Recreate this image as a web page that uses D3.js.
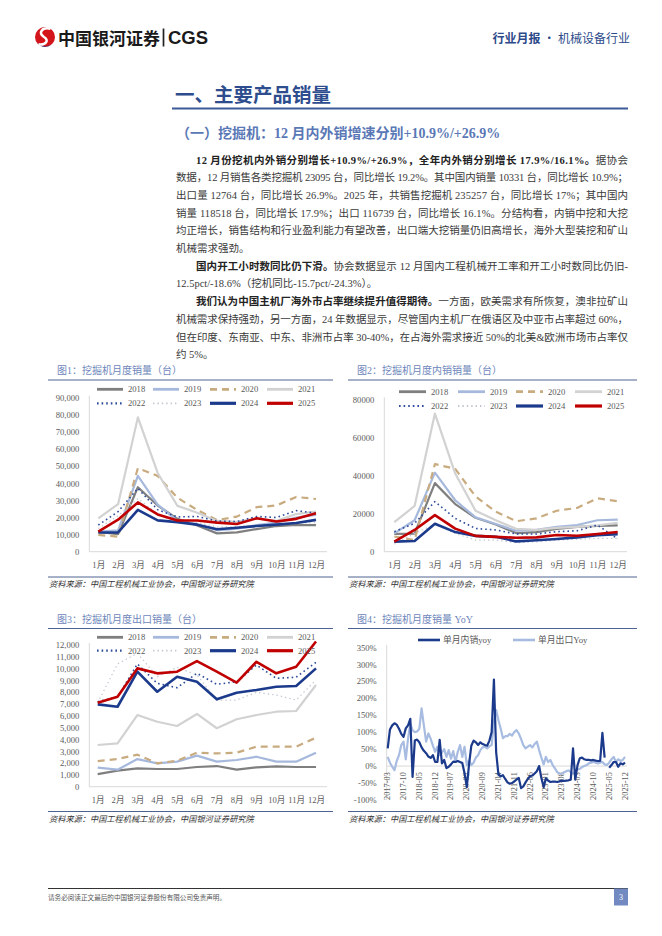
<!DOCTYPE html>
<html><head><meta charset="utf-8">
<script src="https://cdn.jsdelivr.net/npm/d3@7"></script>
<style>
html,body{margin:0;padding:0;background:#fff;}
svg{display:block;}
</style></head><body>
<svg id="page" width="662" height="936"></svg>
<script>
// ---------------- DATA ----------------
const months = ['1月','2月','3月','4月','5月','6月','7月','8月','9月','10月','11月','12月'];
const years = ['2018','2019','2020','2021','2022','2023','2024','2025'];

// 图1 挖掘机月度销量（台）, rows follow `years`
const totalSales = [
  [11500, 10300, 37700, 27000, 19200, 15300, 10700, 11300, 13200, 15000, 15600, 15500],
  [11800, 12500, 44300, 27500, 18000, 16000, 12500, 13500, 15500, 17000, 20000, 21500],
  [9800, 8800, 48800, 44300, 31500, 24400, 18500, 20500, 26000, 27000, 32000, 30800],
  [19500, 27800, 78500, 46000, 26800, 22800, 18000, 17500, 19500, 18000, 22000, 23500],
  [15600, 23400, 37000, 24500, 20300, 20600, 17900, 17600, 20600, 20000, 24000, 22500],
  [13500, 21000, 31000, 22000, 17000, 17000, 14500, 14600, 15700, 16300, 16700, 17000],
  [11200, 11300, 24400, 18300, 17300, 15800, 13100, 14000, 15000, 15800, 16800, 18600],
  [11700, 18700, 28800, 21800, 18200, 18200, 17000, 16200, 19500, 17600, 19200, 22500]
];
const totalTicks = [0, 10000, 20000, 30000, 40000, 50000, 60000, 70000, 80000, 90000];

// 图2 挖掘机月度内销销量（台）
const domesticSales = [
  [9400, 9500, 36000, 25000, 17800, 14300, 9800, 10300, 12000, 13000, 13500, 13800],
  [9600, 16500, 41500, 27000, 18000, 14500, 11000, 11500, 13000, 14000, 16500, 16800],
  [8000, 6100, 46000, 43500, 29000, 21000, 16000, 17500, 21500, 23000, 28000, 26500],
  [15500, 24000, 72500, 41000, 21500, 16500, 12000, 11500, 12500, 13000, 13800, 15200],
  [10500, 14900, 26300, 17500, 12200, 11400, 9300, 9300, 10500, 11000, 14000, 6700],
  [4000, 9600, 14300, 9600, 6100, 6100, 4700, 5200, 6100, 6500, 7000, 7000],
  [5300, 5600, 14700, 10300, 8300, 7800, 5400, 6000, 6700, 7500, 8700, 9200],
  [5300, 11400, 19200, 12100, 8300, 7800, 7300, 7500, 8800, 8400, 9300, 10300]
];
const domesticTicks = [0, 20000, 40000, 60000, 80000];

// 图3 挖掘机月度出口销量（台）
const exportSales = [
  [1070, 1360, 1550, 1500, 1500, 1670, 1750, 1440, 1640, 1720, 1670, 1670],
  [1610, 1440, 2340, 1980, 2120, 2630, 2120, 2260, 2540, 2120, 2120, 2880],
  [2170, 2340, 2710, 1980, 2200, 2880, 2820, 2880, 3390, 3390, 3390, 4150],
  [3530, 3670, 6070, 5500, 5140, 6160, 4950, 5710, 6070, 6350, 6410, 8610],
  [7200, 7600, 10390, 8750, 8380, 9600, 8670, 8890, 10300, 9180, 9270, 10530],
  [7110, 10400, 11300, 9320, 10100, 9460, 7340, 7340, 7990, 7760, 7340, 9040],
  [6970, 6770, 9740, 8040, 9310, 8890, 7400, 7960, 8190, 8470, 8530, 10020],
  [7110, 7620, 10020, 9600, 9740, 10640, 9740, 8810, 10580, 9600, 10160, 12300]
];
const exportTicks = [0, 1000, 2000, 3000, 4000, 5000, 6000, 7000, 8000, 9000, 10000, 11000, 12000];

// 图4 挖掘机月度销量 YoY (%), monthly 2017-03 … 2025-12
const yoyDomestic = [
  52, 108, 120, 126, 122, 110, 95, 86, 111, 120,
  139, -32, 75, 78, 70, 55, 45, 38, 28, 24,
  32, 12, 12, 77, 8, 18, -6, -2, 5, 13,
  12, 15, 12, 9, -21, -62, 5, 60, 75, 70,
  62, 70, 65, 62, 60, 75, 100, 255, 40, -25,
  -30, -27, -38, -48, -52, -50, -45, -40, -35, -65,
  -60, -48, -38, -30, -28, -22, -15, 0, -35, -62,
  -36, -43, -47, -46, -46, -47, -45, -43, -44, -43,
  -42, -40, 52, -40, 3, 23, 25, 20, 18, 18,
  17, 18, 16, 15, 15, 98, 25, null, -5, 3,
  12, 12, -2, 8, 5, 10
];
const yoyExport = [
  27, 10, -2, -12, 15, 32, 62, 72, 20, 81,
  126, 105, 100, 102, 110, 170, 120, 72, 96, 81,
  60, 42, 57, 32, 40, 50, 27, 47, 22, 44,
  12, 42, 62, 27, 57, 3, 17, 3, 10, 25,
  32, 47, 55, 57, 52, 58, 62, 130, 165, 135,
  110, 82, 88, 88, 95, 90, 100, 106, 96, 80,
  62, 52, 57, 62, 55, 65, 72, 47, 25, 5,
  27, 12, 18, 3, -7, -18, -22, -23, -18, -15,
  -13, -18, -23, -15, -10, -8, -3, 0, 3, 8,
  10, 12, 10, 8, 10, 12, 5, 3, 10, 20,
  27, 12, 20, 15, 18, 27
];
const yoyTickLabels = ['2017-03','2017-10','2018-05','2018-12','2019-07','2020-02','2020-09','2021-04',
  '2021-11','2022-06','2023-01','2023-08','2024-03','2024-10','2025-05','2025-12'];
const yoyTicks = [-100, -50, 0, 50, 100, 150, 200, 250, 300, 350];
const yoySeriesNames = ['单月内销yoy', '单月出口Yoy'];

// ---------------- STYLE ----------------
const SERIF = '"Liberation Serif","Noto Sans CJK SC",serif';
const CJK = '"Noto Sans CJK SC",sans-serif';
const seriesStyle = {
  '2018': {c:'#7f7f7f', w:2.2},
  '2019': {c:'#a6b9dd', w:2.2},
  '2020': {c:'#c9ab80', w:2.2, d:'7,5'},
  '2021': {c:'#d2d2d2', w:2.2},
  '2022': {c:'#2d4c9c', w:1.6, d:'1.6,3'},
  '2023': {c:'#c2c5d3', w:1.2, d:'1.4,3'},
  '2024': {c:'#1b3a8c', w:2.6},
  '2025': {c:'#c00000', w:2.6}
};
const svg = d3.select('#page');

// ---------------- HEADER ----------------
const hd = svg.append('g');
hd.append('circle').attr('cx',45).attr('cy',37).attr('r',10).attr('fill','#d3151b');
hd.append('path').attr('d','M37,42.5 A10,10 0 0 0 51.5,44.5 A11.5,11.5 0 0 1 37,42.5 Z').attr('fill','#1d3d8f');
hd.append('path').attr('d','M50.5,28.8 C42,26.8 37.5,33 44,37 C49.5,40 46,45.5 38.5,44.3').attr('fill','none').attr('stroke','#fff').attr('stroke-width',2.5);
hd.append('text').attr('x',58).attr('y',37).attr('dominant-baseline','central')
  .attr('font-family',CJK).attr('font-weight',700).attr('font-size',17).attr('fill','#1a1a1a').text('中国银河证券');
hd.append('line').attr('x1',163.5).attr('x2',163.5).attr('y1',28.5).attr('y2',46.5).attr('stroke','#222').attr('stroke-width',1.7);
hd.append('text').attr('x',168).attr('y',37.5).attr('dominant-baseline','central')
  .attr('font-family','"Liberation Sans",Arial,sans-serif').attr('font-weight',700).attr('font-size',18.5).attr('fill','#1a1a1a').text('CGS');
const rh = hd.append('text').attr('x',630).attr('y',37).attr('text-anchor','end').attr('dominant-baseline','central')
  .attr('font-family',CJK).attr('font-size',12).attr('fill','#2c4a8a');
rh.append('tspan').attr('font-weight',700).text('行业月报');
rh.append('tspan').text(' · 机械设备行业');

// Section title
svg.append('text').attr('x',175).attr('y',93).attr('dominant-baseline','central')
  .attr('font-family',CJK).attr('font-weight',700).attr('font-size',19.5).attr('fill','#2e4d8e').text('一、主要产品销量');
svg.append('line').attr('x1',172).attr('x2',628).attr('y1',108.5).attr('y2',108.5).attr('stroke','#3d5a98').attr('stroke-width',2);
svg.append('text').attr('x',176).attr('y',133).attr('dominant-baseline','central')
  .attr('font-family',SERIF).attr('font-weight',700).attr('font-size',14).attr('fill','#5a78b6')
  .text('（一）挖掘机：12 月内外销增速分别+10.9%/+26.9%');

// Body text
const bodyLines = [
 {x:196, y:159.5, j:true, parts:[['12 月份挖机内外销分别增长+10.9%/+26.9%，全年内外销分别增长 17.9%/16.1%。',1],['据协会',0]]},
 {x:176, y:177.2, j:true, parts:[['数据，12 月销售各类挖掘机 23095 台，同比增长 19.2%。其中国内销量 10331 台，同比增长 10.9%；',0]]},
 {x:176, y:194.9, j:true, parts:[['出口量 12764 台，同比增长 26.9%。2025 年，共销售挖掘机 235257 台，同比增长 17%；其中国内',0]]},
 {x:176, y:212.6, j:true, parts:[['销量 118518 台，同比增长 17.9%；出口 116739 台，同比增长 16.1%。分结构看，内销中挖和大挖',0]]},
 {x:176, y:230.3, j:true, parts:[['均正增长，销售结构和行业盈利能力有望改善，出口端大挖销量仍旧高增长，海外大型装挖和矿山',0]]},
 {x:176, y:248, j:false, parts:[['机械需求强劲。',0]]},
 {x:196, y:265.7, j:true, parts:[['国内开工小时数同比仍下滑。',1],['协会数据显示 12 月国内工程机械开工率和开工小时数同比仍旧-',0]]},
 {x:176, y:283.4, j:false, parts:[['12.5pct/-18.6%（挖机同比-15.7pct/-24.3%）。',0]]},
 {x:196, y:301.1, j:true, parts:[['我们认为中国主机厂海外市占率继续提升值得期待。',1],['一方面，欧美需求有所恢复，澳非拉矿山',0]]},
 {x:176, y:318.8, j:true, parts:[['机械需求保持强劲，另一方面，24 年数据显示，尽管国内主机厂在俄语区及中亚市占率超过 60%，',0]]},
 {x:176, y:336.5, j:true, parts:[['但在印度、东南亚、中东、非洲市占率 30-40%，在占海外需求接近 50%的北美&欧洲市场市占率仅',0]]},
 {x:176, y:354.2, j:false, parts:[['约 5%。',0]]}
];
bodyLines.forEach(l => {
  const t = svg.append('text').attr('x',l.x).attr('y',l.y).attr('dominant-baseline','central')
    .attr('font-family',SERIF).attr('font-size',10.5).attr('fill','#3a3a3a');
  if (l.j) t.attr('textLength', 628 - l.x).attr('lengthAdjust','spacing');
  l.parts.forEach(p => t.append('tspan').attr('font-weight', p[1] ? 700 : 400).attr('fill', p[1] ? '#222' : '#3a3a3a').text(p[0]));
});

// ---------------- FRAME (titles / sources) ----------------
function frame(o){
  svg.append('text').attr('x',o.x0+9).attr('y',o.titleY).attr('dominant-baseline','central')
    .attr('font-family',SERIF).attr('font-size',10).attr('fill','#6e86bb').text(o.title);
  svg.append('line').attr('x1',o.x0).attr('x2',o.x1).attr('y1',o.titleY+9.5).attr('y2',o.titleY+9.5).attr('stroke','#4e6290').attr('stroke-width',1);
  svg.append('line').attr('x1',o.x0).attr('x2',o.x1).attr('y1',o.srcY-6).attr('y2',o.srcY-6).attr('stroke','#4e6290').attr('stroke-width',1);
  svg.append('text').attr('x',o.x0+1).attr('y',o.srcY).attr('dominant-baseline','central')
    .attr('font-family',CJK).attr('font-style','italic').attr('font-size',8.2).attr('fill','#333')
    .text('资料来源：中国工程机械工业协会，中国银河证券研究院');
}
frame({x0:48, x1:333, titleY:370.5, srcY:583, title:'图1：挖掘机月度销量（台）'});
frame({x0:348, x1:637, titleY:370.5, srcY:583, title:'图2：挖掘机月度内销销量（台）'});
frame({x0:48, x1:333, titleY:619, srcY:817.5, title:'图3：挖掘机月度出口销量（台）'});
frame({x0:348, x1:637, titleY:619, srcY:817.5, title:'图4：挖掘机月度销量 YoY'});

// ---------------- LINE CHARTS (1-3) ----------------
function styleAxisText(sel){
  sel.selectAll('text').attr('font-family',SERIF).attr('font-size',8.6).attr('fill','#595959');
}
function lineChart(o){
  const g = svg.append('g');
  const x = d3.scalePoint().domain(months).range([o.x0, o.x1]);
  const y = d3.scaleLinear().domain([0, o.max]).range([o.yBottom, o.yTop]);
  g.append('line').attr('x1',o.axisX).attr('x2',o.axisX).attr('y1',o.yTop - 2).attr('y2',o.yBottom).attr('stroke','#d9d9d9');
  g.append('line').attr('x1',o.axisX).attr('x2',o.rightX).attr('y1',o.yBottom).attr('y2',o.yBottom).attr('stroke','#d9d9d9');
  const ya = g.append('g').attr('transform',`translate(${o.axisX},0)`)
    .call(d3.axisLeft(y).tickValues(o.ticks).tickSize(0).tickPadding(10).tickFormat(o.fmt));
  ya.select('.domain').remove(); styleAxisText(ya);
  const xa = g.append('g').attr('transform',`translate(0,${o.yBottom})`)
    .call(d3.axisBottom(x).tickSize(0).tickPadding(10));
  xa.select('.domain').remove(); styleAxisText(xa);

  const line = d3.line().x((d,i) => x(months[i])).y(d => y(d));
  o.data.forEach((vals, k) => {
    const s = seriesStyle[years[k]];
    g.append('path').datum(vals).attr('d', line).attr('fill','none')
      .attr('stroke', s.c).attr('stroke-width', s.w).attr('stroke-dasharray', s.d || null)
      .attr('stroke-linejoin','round');
  });
  // legend
  years.forEach((yr, k) => {
    const s = seriesStyle[yr];
    const lx = o.legX[k % 4], ly = o.legY[Math.floor(k / 4)];
    g.append('line').attr('x1',lx).attr('x2',lx + o.legW).attr('y1',ly).attr('y2',ly)
      .attr('stroke', s.c).attr('stroke-width', s.w + 0.6).attr('stroke-dasharray', s.d || null);
    g.append('text').attr('x',lx + o.legW + 5).attr('y',ly).attr('dominant-baseline','central')
      .attr('font-family',SERIF).attr('font-size',8.6).attr('fill','#595959').text(yr);
  });
}
lineChart({data: totalSales, max: 90000, ticks: totalTicks, fmt: d3.format(','),
  axisX: 89.3, x0: 98.3, x1: 316, rightX: 327, yTop: 397.7, yBottom: 551.7,
  legX: [97, 153, 210, 267], legW: 26, legY: [389.3, 403.3]});
lineChart({data: domesticSales, max: 80000, ticks: domesticTicks, fmt: d3.format('d'),
  axisX: 384.3, x0: 394.3, x1: 617.7, rightX: 627, yTop: 399.3, yBottom: 551.7,
  legX: [399, 458, 516, 575], legW: 27, legY: [391.7, 406]});
lineChart({data: exportSales, max: 12000, ticks: exportTicks, fmt: d3.format(','),
  axisX: 89.3, x0: 97.7, x1: 316, rightX: 327, yTop: 645, yBottom: 786.7,
  legX: [97, 153, 210, 267], legW: 26, legY: [637.3, 650.7]});

// ---------------- YoY CHART (4) ----------------
(function(){
  const g = svg.append('g');
  const idx = yoyDomestic.map((d,i) => i);
  const x = d3.scaleLinear().domain([0, idx.length - 1]).range([387.7, 625]);
  const y = d3.scaleLinear().domain([-100, 350]).range([800, 647.3]);
  g.append('line').attr('x1',386.7).attr('x2',386.7).attr('y1',645).attr('y2',800).attr('stroke','#d9d9d9');
  g.append('line').attr('x1',386.7).attr('x2',627).attr('y1',y(0)).attr('y2',y(0)).attr('stroke','#d9d9d9');
  const ya = g.append('g').attr('transform','translate(386.7,0)')
    .call(d3.axisLeft(y).tickValues(yoyTicks).tickSize(0).tickPadding(10).tickFormat(d => d + '%'));
  ya.select('.domain').remove(); styleAxisText(ya);
  // rotated date labels every 7 months
  const tickIdx = yoyTickLabels.map((d,i) => i * 7);
  g.selectAll('text.xl').data(yoyTickLabels).join('text').attr('class','xl')
    .attr('transform',(d,i) => `translate(${x(tickIdx[i])},${y(0) + 6}) rotate(-90)`)
    .attr('text-anchor','end').attr('dominant-baseline','central')
    .attr('font-family',SERIF).attr('font-size',8.4).attr('fill','#595959').text(d => d);
  const line = d3.line().defined(d => d != null).x((d,i) => x(i)).y(d => y(d));
  g.append('path').datum(yoyExport).attr('d', line).attr('fill','none')
    .attr('stroke','#a8bce2').attr('stroke-width',2.2).attr('stroke-linejoin','round');
  g.append('path').datum(yoyDomestic).attr('d', line).attr('fill','none')
    .attr('stroke','#1b3a8c').attr('stroke-width',2.2).attr('stroke-linejoin','round');
  // legend
  const leg = [{x:418, c:'#1b3a8c'}, {x:513, c:'#a8bce2'}];
  leg.forEach((l,k) => {
    g.append('line').attr('x1',l.x).attr('x2',l.x + 22).attr('y1',640).attr('y2',640).attr('stroke',l.c).attr('stroke-width',2.6);
    g.append('text').attr('x',l.x + 25).attr('y',640).attr('dominant-baseline','central')
      .attr('font-family',SERIF).attr('font-size',8.8).attr('fill','#595959').text(yoySeriesNames[k]);
  });
})();

// ---------------- FOOTER ----------------
svg.append('line').attr('x1',48).attr('x2',628).attr('y1',888.5).attr('y2',888.5).attr('stroke','#333').attr('stroke-width',1.2);
svg.append('text').attr('x',48).attr('y',897).attr('dominant-baseline','central')
  .attr('font-family',CJK).attr('font-size',6.6).attr('fill','#555').text('请务必阅读正文最后的中国银河证券股份有限公司免责声明。');
svg.append('rect').attr('x',614).attr('y',888.5).attr('width',14).attr('height',17).attr('fill','#7389c2');
svg.append('text').attr('x',621).attr('y',897).attr('text-anchor','middle').attr('dominant-baseline','central')
  .attr('font-family',SERIF).attr('font-size',8).attr('fill','#fff').text('3');
</script>
</body></html>
